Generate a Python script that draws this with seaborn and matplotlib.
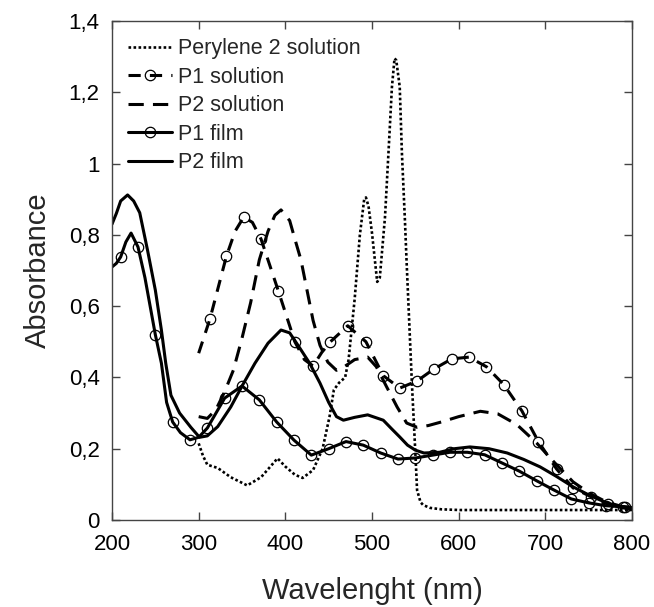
import numpy as np
import matplotlib
matplotlib.use("Agg")
import matplotlib.pyplot as plt
from matplotlib.ticker import FuncFormatter
import seaborn as sns

# Perylene 2 solution (dotted)
PERYLENE_X = [300, 305, 310, 322, 337, 356, 372, 391, 400, 411, 420, 432, 443, 451, 456, 462,
              469, 473, 480, 486, 491, 493, 496, 500, 506, 509, 515, 519, 523, 526, 528, 532,
              534.5, 538, 540, 546, 550, 552, 556, 559, 567, 580, 601, 800]
PERYLENE_Y = [0.215, 0.18, 0.155, 0.146, 0.12, 0.097, 0.12, 0.173, 0.15, 0.127, 0.118, 0.14,
              0.2, 0.29, 0.365, 0.385, 0.40, 0.45, 0.62, 0.80, 0.90, 0.905, 0.88, 0.805, 0.668,
              0.68, 0.85, 1.03, 1.215, 1.295, 1.29, 1.215, 1.03, 0.84, 0.72, 0.385, 0.19,
              0.084, 0.05, 0.042, 0.034, 0.03, 0.028, 0.028]

# P1 solution (dashed + circles)
P1_SOL_X = [300, 313, 332, 342, 352, 362, 372, 392, 411, 422, 432, 442, 452, 472, 493, 513,
            532, 552, 571, 592, 612, 632, 652, 673, 692, 713, 732, 753, 772, 792, 800]
P1_SOL_Y = [0.468, 0.564, 0.74, 0.81, 0.85, 0.835, 0.788, 0.642, 0.50, 0.45, 0.432, 0.47, 0.50,
            0.545, 0.50, 0.405, 0.37, 0.39, 0.423, 0.452, 0.457, 0.43, 0.38, 0.306, 0.22, 0.143,
            0.09, 0.065, 0.045, 0.037, 0.035]
P1_SOL_MARKS = [313, 332, 352, 372, 392, 411, 432, 452, 472, 493, 513, 532, 552, 571, 592, 612,
                632, 652, 673, 692, 713, 732, 753, 772, 792]

# P2 solution (dashed)
P2_SOL_X = [300, 310, 320, 330, 340, 350, 360, 370, 380, 388, 395, 405, 412, 418, 425, 432, 440,
            449, 459, 468, 480, 495, 505, 517, 529, 540, 552, 565, 580, 600, 625, 645, 667, 690,
            711, 732, 751, 771, 794]
P2_SOL_Y = [0.29, 0.285, 0.31, 0.36, 0.42, 0.51, 0.61, 0.73, 0.81, 0.855, 0.87, 0.84, 0.78, 0.73,
            0.645, 0.56, 0.49, 0.443, 0.42, 0.43, 0.45, 0.457, 0.43, 0.373, 0.317, 0.272, 0.26,
            0.265, 0.275, 0.29, 0.305, 0.298, 0.268, 0.216, 0.16, 0.107, 0.075, 0.05, 0.034]

# P1 film (solid + circles)
P1_FILM_X = [200, 205, 210, 216, 222, 230, 238, 250, 257, 263, 270, 279, 290, 300, 310, 330,
             350, 370, 390, 410, 430, 450, 470, 490, 510, 530, 550, 570, 590, 610, 630, 650,
             670, 690, 710, 730, 750, 770, 790, 800]
P1_FILM_Y = [0.71, 0.72, 0.738, 0.78, 0.805, 0.766, 0.68, 0.52, 0.44, 0.33, 0.275, 0.245, 0.225,
             0.232, 0.258, 0.342, 0.376, 0.337, 0.275, 0.224, 0.182, 0.20, 0.22, 0.21, 0.188,
             0.171, 0.174, 0.182, 0.19, 0.19, 0.183, 0.16, 0.137, 0.11, 0.084, 0.059, 0.048,
             0.04, 0.037, 0.035]
P1_FILM_MARKS = [210, 230, 250, 270, 290, 310, 330, 350, 370, 390, 410, 430, 450, 470, 490, 510,
                 530, 550, 570, 590, 610, 630, 650, 670, 690, 710, 730, 750, 770, 790]

# P2 film (solid)
P2_FILM_X = [200, 205, 210, 218, 225, 232, 241, 250, 257, 262, 268, 278, 291, 301, 310, 322, 337,
             351, 365, 380, 395, 405, 416, 428, 440, 450, 459, 467, 480, 495, 513, 523, 532, 541,
             550, 560, 578, 595, 613, 635, 656, 675, 694, 713, 732, 752, 771, 786, 798]
P2_FILM_Y = [0.83, 0.86, 0.895, 0.912, 0.895, 0.862, 0.757, 0.645, 0.533, 0.44, 0.35, 0.30, 0.26,
             0.232, 0.236, 0.262, 0.317, 0.38, 0.44, 0.496, 0.533, 0.525, 0.485, 0.44, 0.384, 0.33,
             0.29, 0.28, 0.288, 0.295, 0.28, 0.255, 0.233, 0.21, 0.196, 0.188, 0.19, 0.2, 0.205,
             0.2, 0.188, 0.17, 0.149, 0.122, 0.093, 0.068, 0.048, 0.036, 0.03]

X_TICKS = [200, 300, 400, 500, 600, 700, 800]
Y_TICKS = [0, 0.2, 0.4, 0.6, 0.8, 1.0, 1.2, 1.4]

sns.set_style("ticks")
plt.rcParams["font.family"] = ["Liberation Sans", "DejaVu Sans"]

fig = plt.figure(figsize=(6.54, 6.07), dpi=100)
ax = fig.add_axes([112 / 654, 1 - 520 / 607, 520 / 654, 499 / 607])


def mark_idx(xs, marks):
    return [i for i, x in enumerate(xs) if x in marks]


circle = dict(marker="o", ms=7.5, mfc="none", mec="black", mew=0.9)

sns.lineplot(x=PERYLENE_X, y=PERYLENE_Y, ax=ax, sort=False, estimator=None, color="black",
             lw=1.9, linestyle=(0, (1, 0.9)), label="Perylene 2 solution")
sns.lineplot(x=P1_SOL_X, y=P1_SOL_Y, ax=ax, sort=False, estimator=None, color="black",
             lw=2.2, linestyle=(0, (4, 3)), markevery=mark_idx(P1_SOL_X, P1_SOL_MARKS),
             label="P1 solution", **circle)
sns.lineplot(x=P2_SOL_X, y=P2_SOL_Y, ax=ax, sort=False, estimator=None, color="black",
             lw=2.2, linestyle=(0, (5, 3)), label="P2 solution")
sns.lineplot(x=P1_FILM_X, y=P1_FILM_Y, ax=ax, sort=False, estimator=None, color="black",
             lw=2.2, markevery=mark_idx(P1_FILM_X, P1_FILM_MARKS), label="P1 film", **circle)
sns.lineplot(x=P2_FILM_X, y=P2_FILM_Y, ax=ax, sort=False, estimator=None, color="black",
             lw=2.2, label="P2 film")

ax.set_xlim(200, 800)
ax.set_ylim(0, 1.4)
ax.set_xticks(X_TICKS)
ax.set_yticks(Y_TICKS)
ax.yaxis.set_major_formatter(FuncFormatter(lambda v, p: f"{v:g}".replace(".", ",")))
ax.tick_params(direction="in", top=True, right=True, length=6, width=1, color="#444444",
               labelsize=16, labelcolor="black")
ax.tick_params(axis="x", pad=10)
ax.tick_params(axis="y", pad=9)
for s in ax.spines.values():
    s.set_color("#444444")
    s.set_linewidth(1.0)

ax.set_xlabel("Wavelenght (nm)", fontsize=21, labelpad=16)
ax.set_ylabel("Absorbance", fontsize=21, labelpad=12)

leg = ax.legend(loc="upper left", bbox_to_anchor=(0.014, 0.983), frameon=False, fontsize=15.5,
                handlelength=2.05, handletextpad=0.28, labelspacing=0.35, borderaxespad=0.0)

fig.savefig("out.png", dpi=100)
